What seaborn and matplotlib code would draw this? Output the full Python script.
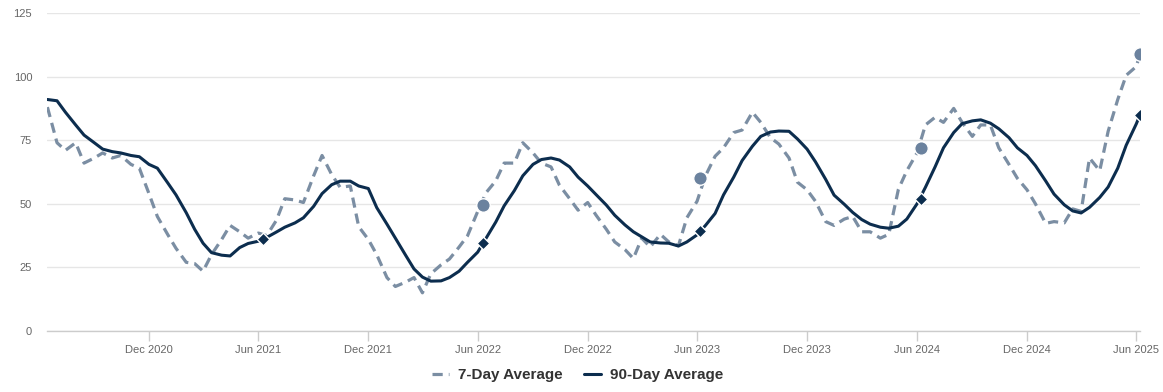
# 7-day vs 90-day average chart

import pandas as pd
import numpy as np
import matplotlib
matplotlib.use('Agg')
import matplotlib.pyplot as plt
import matplotlib.dates as mdates
import seaborn as sns


# Data (semi-monthly readings, Jun 2020 - Jun 2025, plus last day)

dates = list(pd.date_range('2020-06-15', '2025-06-01', freq='SMS')) + [pd.Timestamp('2025-06-07')]

avg_7 = [
    88, 74, 71, 74, 66, 68, 70, 68, 69, 65.5, 64, 54, 45, 38, 32.5, 27, 26.5, 23.5, 30, 36,
    41.5, 39, 36.5, 38.5, 37.5, 43.5, 52, 51.5, 50.5, 61, 69, 61.5, 56.5, 57, 41, 36, 30, 21, 17.5, 19.2,
    21, 15, 22.5, 26, 28.3, 33, 37.4, 47, 54.4, 59, 66, 66, 74, 70, 66, 64.5, 57.3, 52, 47.5, 50.5,
    45.5, 40, 35, 32, 28.5, 36.5, 33, 38, 35, 33.5, 44.5, 51, 61, 68.7, 72, 78, 79, 86, 82, 76,
    73.5, 68, 58.5, 55.5, 51, 43, 41.5, 44, 45, 39, 39, 36.5, 38, 55.7, 63, 70, 81, 84, 82, 87.5,
    82, 76.5, 81, 81, 72, 65.5, 60, 55.5, 50, 42.3, 43, 42.5, 48, 47, 68, 63, 78.5, 91, 100.5, 104,
    109,
]

avg_90 = [
    91, 90.5, 86, 81, 77, 74, 71.5, 70.5, 70, 69, 68.5, 65.5, 64, 58.3, 53.5, 46.5, 40, 34.5, 30.8, 29.8,
    29.5, 32.8, 34.4, 35.3, 36.8, 38.9, 40.8, 42.5, 44.5, 49, 54, 57.5, 58.9, 58.9, 57, 56, 48.5, 42, 36.5, 29.8,
    24.4, 21.2, 19.6, 19.7, 21, 23.5, 27, 31, 36.5, 42.8, 49.2, 55.2, 61, 65.5, 67.4, 68, 67.2, 64.5, 60.5, 57,
    53.6, 49.5, 45.5, 41.7, 39, 37, 35, 34.6, 34.5, 33.4, 35, 37.8, 41.5, 46.2, 53.5, 60.5, 67, 72.6, 76.5, 78.2,
    78.6, 78.5, 75.5, 71.5, 66.5, 59.6, 53.4, 49.8, 46.6, 43.8, 42, 40.8, 40.4, 41.2, 44, 50, 56.5, 64.5, 72, 78,
    81.5, 82.6, 83, 81.7, 79.5, 76, 72, 69, 65, 59, 53.8, 49.6, 47.2, 46.4, 48.6, 52.5, 56.6, 64, 73, 81.5,
    85,
]

# yearly June markers
circle_dates = pd.to_datetime(['2022-06-09', '2023-06-06', '2024-06-07', '2025-06-07'])
circle_vals = [49.6, 60.2, 72, 109]
diamond_dates = pd.to_datetime(['2021-06-09', '2022-06-09', '2023-06-06', '2024-06-07', '2025-06-07'])
diamond_vals = [36, 34.4, 39.3, 52, 85]

tick_dates = pd.to_datetime(['2020-12-01', '2021-06-01', '2021-12-01', '2022-06-01', '2022-12-01',
                             '2023-06-01', '2023-12-01', '2024-06-01', '2024-12-01', '2025-06-01'])

df = pd.DataFrame({'date': dates, '7-Day Average': avg_7, '90-Day Average': avg_90})

light = '#7b8ea3'
dark = '#0c2d4e'
circ = '#6b829e'

# Plot

sns.set_theme(style='white')
plt.rcParams['font.family'] = ['Liberation Sans', 'DejaVu Sans']

fig = plt.figure(figsize=(11.63, 3.92), dpi=100)
ax = fig.add_axes([47.4 / 1163, 1 - 331 / 392, (1140 - 47.4) / 1163, (331 - 13) / 392])

sns.lineplot(data=df, x='date', y='7-Day Average', ax=ax, color=light, lw=2.3,
             dashes=False, label='7-Day Average', zorder=3)
ax.lines[-1].set_dashes((3.2, 1.9))
sns.lineplot(data=df, x='date', y='90-Day Average', ax=ax, color=dark, lw=2.2,
             label='90-Day Average', zorder=4)

sns.scatterplot(x=circle_dates, y=circle_vals, ax=ax, color=circ, s=95, marker='o',
                edgecolor='white', linewidth=1, zorder=5, legend=False)
sns.scatterplot(x=diamond_dates, y=diamond_vals, ax=ax, color=dark, s=42, marker='D',
                edgecolor='white', linewidth=1, zorder=6, legend=False)

ax.set_xlim(dates[0], dates[-1])
ax.set_ylim(0, 125)
ax.set_yticks([0, 25, 50, 75, 100, 125])
ax.set_xticks(tick_dates)
ax.xaxis.set_major_formatter(mdates.DateFormatter('%b %Y'))
ax.set_xlabel('')
ax.set_ylabel('')

ax.grid(axis='y', color='#e6e6e6', lw=1)
ax.set_axisbelow(True)
for s in ['top', 'right', 'left']:
    ax.spines[s].set_visible(False)
ax.spines['bottom'].set_color('#cccccc')
ax.spines['bottom'].set_linewidth(1)

ax.tick_params(axis='x', colors='#cccccc', labelcolor='#666666', labelsize=8,
               length=7, width=1, direction='out', bottom=True, pad=3)
ax.tick_params(axis='y', labelcolor='#666666', labelsize=8, length=0, pad=11)

ax.get_legend().remove()
handles, labels = ax.get_legend_handles_labels()
leg = fig.legend(handles[:2], labels[:2], loc='center', bbox_to_anchor=(0.497, 0.043), ncol=2,
                 frameon=False, handlelength=1.1, columnspacing=1.4, handletextpad=0.6,
                 prop={'weight': 'bold', 'size': 11})
for t in leg.get_texts():
    t.set_color('#333333')

fig.savefig('out.png', dpi=100)
